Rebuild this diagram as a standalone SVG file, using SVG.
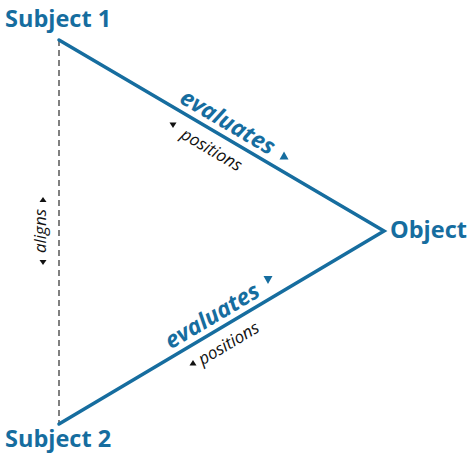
<svg xmlns="http://www.w3.org/2000/svg" width="469" height="454" viewBox="0 0 469 454">
<style>
.node{font-family:"Open Sans","Noto Sans",sans-serif;font-weight:bold;font-size:23.5px;fill:#166d9f}
.ev{font-family:"Open Sans","Noto Sans",sans-serif;font-weight:bold;font-style:italic;font-size:23px;fill:#166d9f}
.pos{font-family:"Open Sans","Noto Sans",sans-serif;font-style:italic;font-size:17px;fill:#111}
.edge{stroke:#166d9f;stroke-width:3.5;fill:none;stroke-linecap:round}
.dash{stroke:#555;stroke-width:1.5;stroke-dasharray:6 4;fill:none}
.tb{fill:#166d9f}
.tk{fill:#111}
</style>
<rect width="469" height="454" fill="#fff"/>
<g id="connectors">
<line class="dash" x1="59" y1="40" x2="59" y2="424"/>
<polyline class="edge" points="59,40 384,231 59,424"/>
<g transform="translate(59,40) rotate(30.44)">
<text class="ev" x="187" y="-7" text-anchor="middle">evaluates</text>
<text class="pos" x="187" y="23" text-anchor="middle">positions</text>
</g>
<polygon class="tb" points="284,151.5 288.5,159.5 279.5,159.5"/>
<polygon class="tk" points="169.5,122.5 176.5,122.5 173,128"/>
<g transform="translate(59,424) rotate(-30.7)">
<text class="ev" x="187" y="-7" text-anchor="middle">evaluates</text>
<text class="pos" x="187" y="23" text-anchor="middle">positions</text>
</g>
<polygon class="tb" points="263.5,276 272.5,276 268,284"/>
<polygon class="tk" points="193,360 196.5,365.5 189.5,365.5"/>
<text class="pos" transform="translate(46,231) rotate(-90)" text-anchor="middle">aligns</text>
<polygon class="tk" points="43,197 46.5,202 39.5,202"/>
<polygon class="tk" points="39.5,260 46.5,260 43,265"/>
</g>
<g id="subject1"><text class="node" x="5" y="27">Subject 1</text></g>
<g id="object"><text class="node" x="390" y="238">Object</text></g>
<g id="subject2"><text class="node" x="5" y="447">Subject 2</text></g>
</svg>
